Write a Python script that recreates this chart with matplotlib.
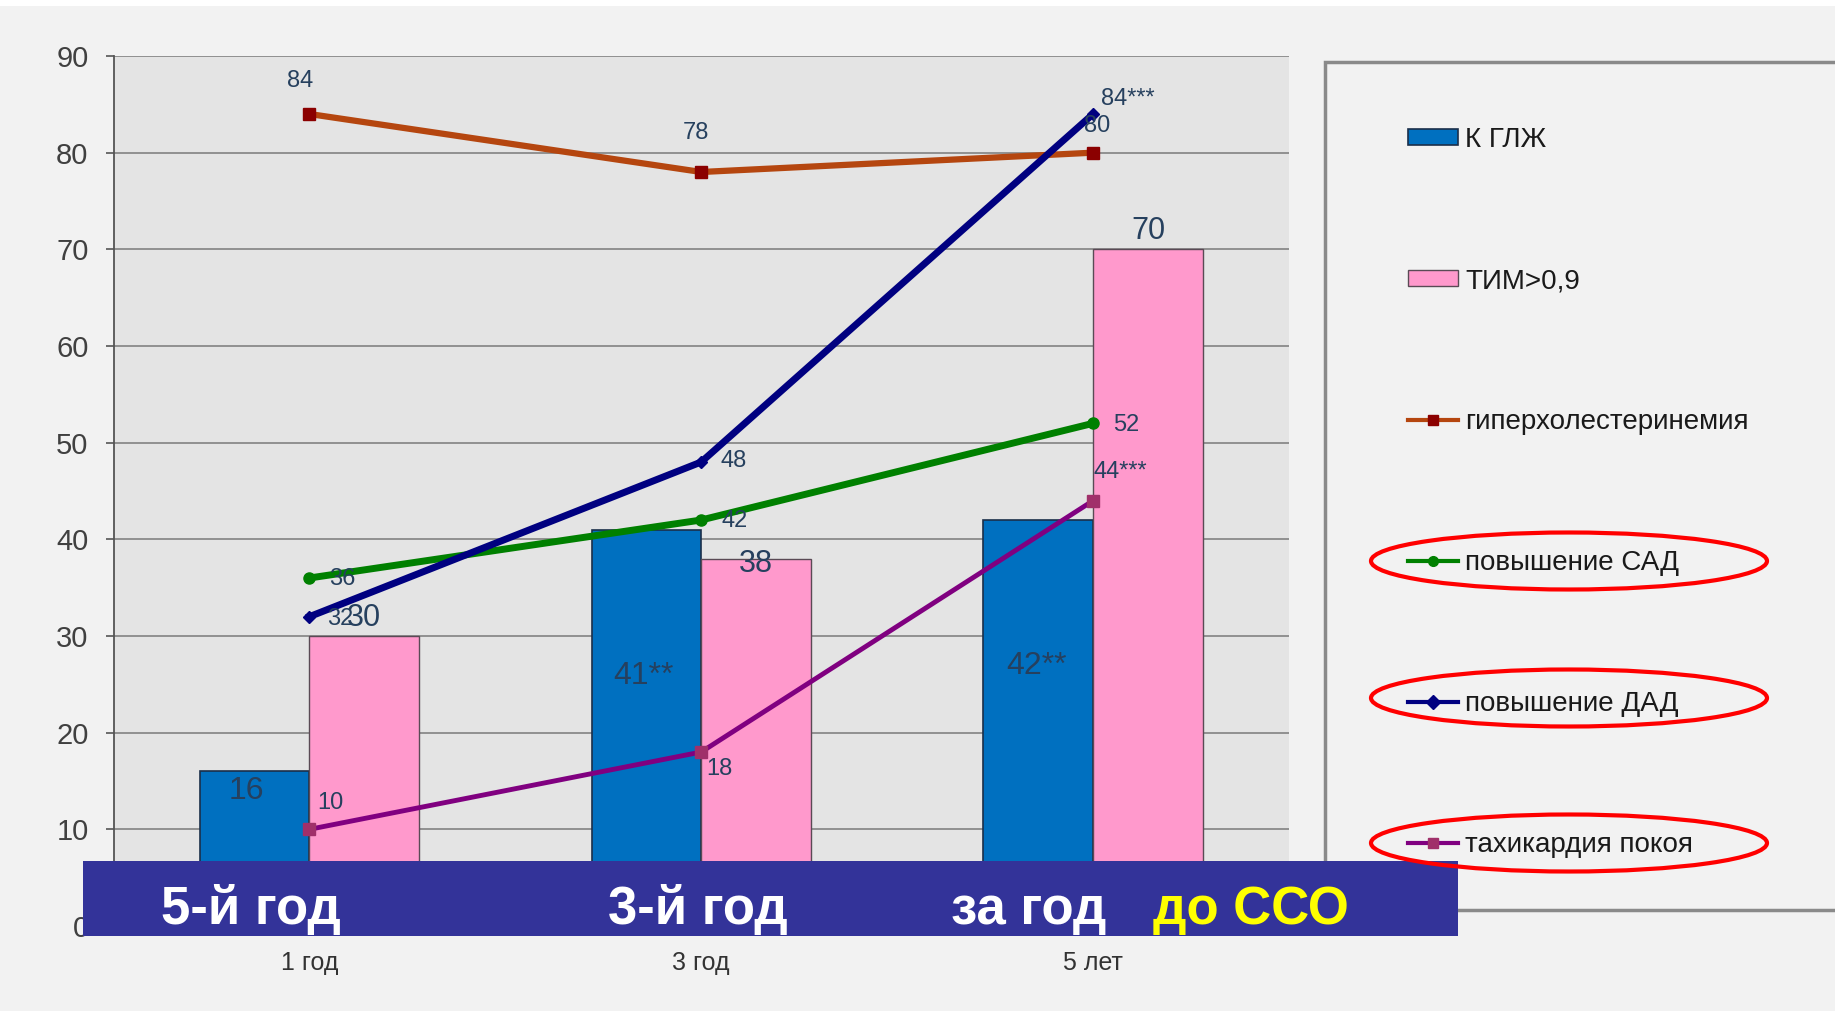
import matplotlib
matplotlib.use("Agg")
import matplotlib.pyplot as plt
from matplotlib.patches import Rectangle, Ellipse
from matplotlib.lines import Line2D
import numpy as np

plt.rcParams['font.family'] = ['Liberation Sans', 'DejaVu Sans']

# ---------------- data ----------------
categories = ["1 год", "3 год", "5 лет"]
lvh = [16, 41, 42]                 # К ГЛЖ (bars)
lvh_labels = ["16", "41**", "42**"]
imt = [30, 38, 70]                 # ТИМ>0,9 (bars)
imt_labels = ["30", "38", "70"]
hyperchol = [84, 78, 80]           # гиперхолестеринемия
hyperchol_labels = ["84", "78", "80"]
sbp = [36, 42, 52]                 # повышение САД
sbp_labels = ["36", "42", "52"]
dbp = [32, 48, 84]                 # повышение ДАД
dbp_labels = ["32", "48", "84***"]
tachy = [10, 18, 44]               # тахикардия покоя
tachy_labels = ["10", "18", "44***"]
series_names = ["К ГЛЖ", "ТИМ>0,9", "гиперхолестеринемия",
                "повышение САД", "повышение ДАД", "тахикардия покоя"]
yticks = list(range(0, 100, 10))
band_texts = ["5-й год", "3-й год", "за год"]
band_highlight = "до ССО"

# ---------------- figure ----------------
W, H = 1835, 1011
fig = plt.figure(figsize=(W / 100, H / 100), dpi=100, facecolor="#f2f2f2")
ax = fig.add_axes([113.5 / W, 1 - 926 / H, (1289 - 113.5) / W, (926 - 56) / H])
ax.set_facecolor("#e4e4e4")

x = np.arange(len(categories))
bw = 0.28
lab_col = "#26405e"

b1 = ax.bar(x - bw / 2, lvh, width=bw, color="#0070c0", edgecolor="#1b2f4a",
            linewidth=1.2, zorder=2, label=series_names[0])
b2 = ax.bar(x + bw / 2, imt, width=bw, color="#ff99cc", edgecolor="#5a4a55",
            linewidth=1.0, zorder=2, label=series_names[1])

l1, = ax.plot(x, hyperchol, color="#b5460f", lw=4.5, marker="s", ms=8,
              mfc="#8b0000", mec="#8b0000", zorder=4, label=series_names[2])
l2, = ax.plot(x, sbp, color="#008000", lw=5, marker="o", ms=8,
              mfc="#008000", mec="#008000", zorder=4, label=series_names[3])
l3, = ax.plot(x, dbp, color="#000080", lw=5, marker="D", ms=6,
              mfc="#000080", mec="#000080", zorder=5, label=series_names[4])
l4, = ax.plot(x, tachy, color="#800080", lw=3.5, marker="s", ms=8,
              mfc="#a0306a", mec="#a0306a", zorder=4, label=series_names[5])

ax.set_xlim(-0.5, 2.5)
ax.set_ylim(0, 90)
ax.set_yticks(yticks)
ax.set_xticks(x)
ax.set_xticklabels(categories)
ax.grid(axis="y", color="#8a8a8a", lw=1.3, zorder=0)
ax.set_axisbelow(True)
for s in ["top", "right", "bottom"]:
    ax.spines[s].set_visible(False)
ax.spines["left"].set_color("#555555")
ax.spines["left"].set_linewidth(1.3)
ax.tick_params(axis="y", direction="out", length=6, width=1.2, color="#555555",
               pad=12, labelsize=21, labelcolor="#404040")
ax.tick_params(axis="x", length=0, pad=18, labelsize=18, labelcolor="#333333")

def lab(xi, yi, txt, dx, dy, size=17, ha="center"):
    ax.annotate(txt, (xi, yi), xytext=(dx, dy), textcoords="offset points",
                ha=ha, va="center", fontsize=size, color=lab_col, zorder=6)

# hyperchol labels
for xi, yi, t, d in zip(x, hyperchol, hyperchol_labels, [(-7, 24), (-4, 28), (3, 19)]):
    lab(xi, yi, t, *d)
# sbp
for xi, yi, t in zip(x, sbp, sbp_labels):
    lab(xi, yi, t, 24, -1)
# dbp
lab(x[0], dbp[0], dbp_labels[0], 22, -2)
lab(x[1], dbp[1], dbp_labels[1], 23, 1)
lab(x[2], dbp[2], dbp_labels[2], 6, 11, ha="left")
# tachy
lab(x[0], tachy[0], tachy_labels[0], 15, 19)
lab(x[1], tachy[1], tachy_labels[1], 13, -12)
lab(x[2], tachy[2], tachy_labels[2], 0, 21, ha="left")
# bar labels
for xi, yi, t, d in zip(x - bw / 2, lvh, lvh_labels, [(-6, -14), (-2, -105), (-1, -105)]):
    lab(xi, yi, t, *d, size=23)
for xi, yi, t, d in zip(x + bw / 2, imt, imt_labels, [(0, 13), (0, -4), (0, 13)]):
    lab(xi, yi, t, *d, size=22)

# ---------------- legend ----------------
fig.add_artist(Rectangle((1325 / W, 1 - 910 / H), 0.4, (910 - 62) / H,
                         transform=fig.transFigure, facecolor="#f2f2f2",
                         edgecolor="#8a8a8a", lw=2.5, zorder=1))
handles = [b1, b2, l1, l2, l3, l4]
leg = fig.legend(handles, series_names, loc="upper left",
                 bbox_to_anchor=(1408 / W, 1 - 127 / H), frameon=False,
                 fontsize=20, handlelength=1.8, handleheight=0.5,
                 handletextpad=0.25, labelspacing=4.14, numpoints=1,
                 borderpad=0, borderaxespad=0)
for t in leg.get_texts():
    t.set_color("#1a1a1a")
for h in leg.legend_handles:
    if isinstance(h, Line2D):
        h.set_linewidth(3)
        h.set_markersize(7)
leg.set_zorder(3)

for cy in [561, 698, 843]:
    fig.add_artist(Ellipse((1569 / W, 1 - cy / H), 396 / W, 57 / H,
                           transform=fig.transFigure, fill=False,
                           edgecolor="#ff0000", lw=3, zorder=12))

# ---------------- overlay band ----------------
fig.add_artist(Rectangle((83 / W, 1 - 936 / H), (1458 - 83) / W, 75 / H,
                         transform=fig.transFigure, facecolor="#333399",
                         edgecolor="none", zorder=10))
band_fam = ["Liberation Sans Narrow", "Liberation Sans", "DejaVu Sans"]
for t, xp in zip(band_texts, [161, 608, 951]):
    fig.text(xp / W, 1 - 924 / H, t, color="white", fontsize=38,
             fontweight="bold", family=band_fam, ha="left", va="baseline", zorder=11)
fig.text(1153 / W, 1 - 924 / H, band_highlight, color="#ffff00", fontsize=38,
         fontweight="bold", family=band_fam, ha="left", va="baseline", zorder=11)

# white strip at top (cut-off slide title)
fig.add_artist(Rectangle((0, 1 - 6 / H), 1, 6 / H, transform=fig.transFigure,
                         facecolor="white", edgecolor="none", zorder=10))

fig.savefig("out.png", dpi=100, facecolor=fig.get_facecolor())
